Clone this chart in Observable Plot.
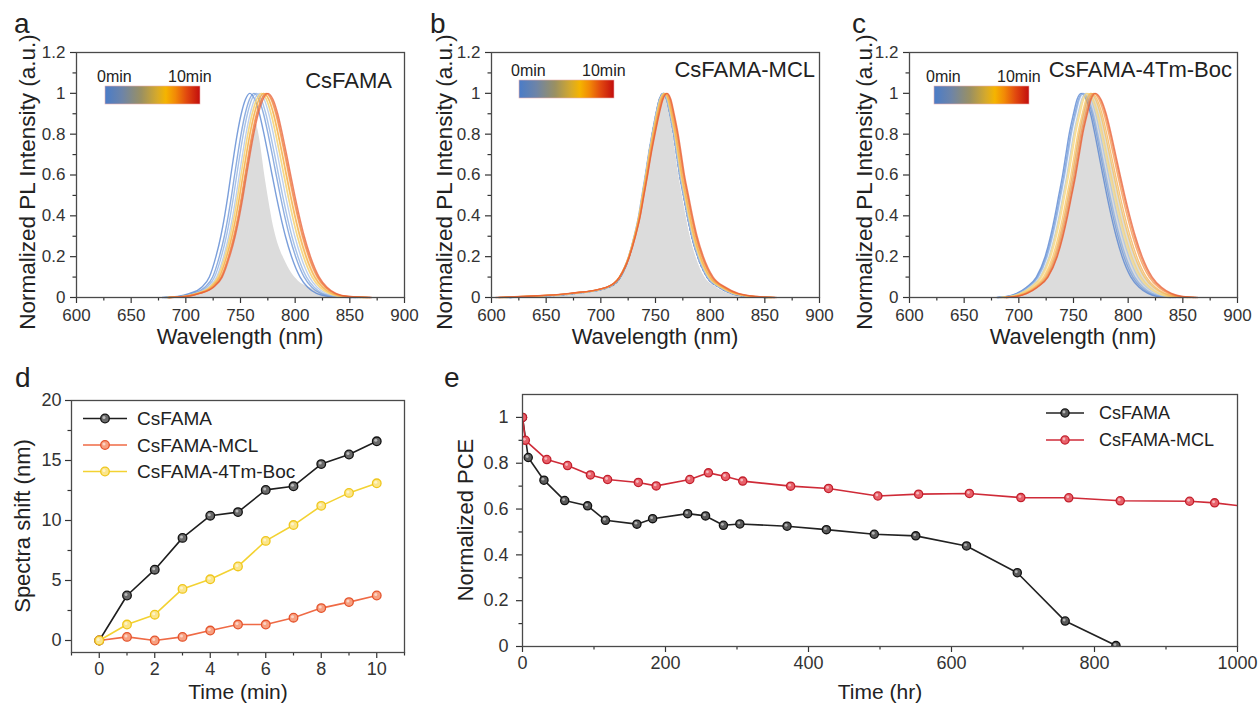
<!DOCTYPE html>
<html>
<head>
<meta charset="utf-8">
<script src="https://cdn.jsdelivr.net/npm/d3@7"></script>
<script src="https://cdn.jsdelivr.net/npm/@observablehq/plot@0.6"></script>
<style>
  html, body { margin: 0; padding: 0; background: #fff; }
  #fig { position: relative; width: 1260px; height: 704px; overflow: hidden; background: #fff; }
  #fig > svg { position: absolute; }
</style>
</head>
<body>
<div id="fig"></div>
<script>
// ---------------- DATA ----------------
// Panel d: spectra peak shift (nm) vs time (min)
const timeMin = [0, 1, 2, 3, 4, 5, 6, 7, 8, 9, 10];
const shiftCsFAMA = [0, 3.75, 5.9, 8.55, 10.4, 10.7, 12.55, 12.85, 14.7, 15.5, 16.6];
const shiftMCL    = [0, 0.3, 0.0, 0.3, 0.83, 1.33, 1.33, 1.9, 2.7, 3.2, 3.75];
const shiftBoc    = [0, 1.33, 2.15, 4.3, 5.1, 6.17, 8.3, 9.62, 11.22, 12.3, 13.1];

// Panel e: normalized PCE vs time (hr)
const timeHrCsFAMA = [0, 8, 30, 59, 91, 116, 160, 182, 231, 256, 281, 304, 370, 425, 492, 550, 621, 692, 759, 830];
const pceCsFAMA    = [1.0, 0.825, 0.726, 0.637, 0.614, 0.551, 0.534, 0.558, 0.580, 0.570, 0.529, 0.535, 0.525, 0.510, 0.490, 0.483, 0.439, 0.322, 0.111, 0.004];
const timeHrMCL = [0, 4, 34, 63, 95, 119, 162, 187, 234, 260, 284, 308, 375, 428, 497, 554, 625, 697, 764, 836, 933, 968, 1040];
const pceMCL    = [1.0, 0.90, 0.816, 0.790, 0.749, 0.729, 0.716, 0.701, 0.729, 0.758, 0.742, 0.722, 0.700, 0.690, 0.657, 0.665, 0.668, 0.650, 0.649, 0.636, 0.634, 0.627, 0.600];

// Panels a-c: PL spectra line shape
// intensity levels and the distance (nm) of each flank from the peak at that level
const levels    = [0, 0.005, 0.02, 0.05, 0.1, 0.2, 0.3, 0.4, 0.5, 0.6, 0.7, 0.8, 0.9, 0.97, 1];
const leftOffA  = [80, 66, 55, 44, 37, 31, 26.5, 23, 20, 17.3, 14.5, 11.5, 7.8, 4, 0];
const rightOffA = [93, 73, 61, 53, 46, 38.2, 32.6, 28.1, 24.1, 20.4, 16.8, 13, 8.8, 4.6, 0];
const leftOffB  = [140, 120, 80, 50, 39, 31, 26, 22, 19, 16, 13.2, 10, 6.5, 3.5, 0];
const rightOffB = [95, 78, 62, 51, 40, 31.5, 26, 22, 18.5, 15, 12.3, 9.5, 6, 3.2, 0];
const leftOffC  = [77, 68, 59, 50, 41, 33, 28, 24, 20.5, 17, 14, 11, 7, 3.8, 0];
const rightOffC = [82, 70, 61, 53, 45.5, 37.5, 32, 27.5, 23.5, 19.8, 16.2, 12.6, 8.6, 4.5, 0];
// 0-min peak wavelength per panel (each later curve is shifted by the panel-d shift)
const peak0A = 758.5, peak0B = 757, peak0C = 757;
// per-curve flank broadening (0 ... 10 min)
const leftScaleA  = [1.00, 1.02, 1.03, 1.05, 1.07, 1.08, 1.09, 1.10, 1.11, 1.12, 1.13];
const rightScaleA = [1.00, 1.00, 1.00, 1.00, 1.01, 1.01, 1.01, 1.02, 1.02, 1.02, 1.02];
const leftScaleB  = [1.00, 1.01, 1.02, 1.03, 1.04, 1.05, 1.06, 1.08, 1.09, 1.10, 1.12];
const rightScaleB = [1.00, 1.00, 1.01, 1.01, 1.02, 1.02, 1.03, 1.03, 1.04, 1.04, 1.05];
const leftScaleC  = [1.00, 1.01, 1.01, 1.02, 1.03, 1.03, 1.04, 1.04, 1.05, 1.05, 1.06];
const rightScaleC = [1.00, 1.01, 1.03, 1.05, 1.06, 1.07, 1.09, 1.10, 1.12, 1.13, 1.14];
// grey reference area
const grayAx = [688, 705, 715, 726, 733, 741, 748.5, 754.6, 762, 764.5, 766, 773, 781, 792, 803, 813, 825, 845];
const grayAy = [0, 0.01, 0.025, 0.05, 0.1, 0.2, 0.4, 0.6, 0.8, 0.85, 0.82, 0.57, 0.33, 0.165, 0.08, 0.05, 0.02, 0];
const grayPeakB = 757, grayLeftB = 1.0, grayRightB = 0.95;
const grayPeakC = 766, grayLeftC = 1.0, grayRightC = 1.1;

const curveColors = ["#4f7fcf", "#6a93d6", "#8aaee0", "#a9c0e4", "#f3dc8c", "#f6d277", "#f7c35c", "#f6ae4f", "#f39548", "#ee7a40", "#e85c33"];

// ticks
const specXTicks = [600, 650, 700, 750, 800, 850, 900];
const specXLabels = ["600", "650", "700", "750", "800", "850", "900"];
const specXMinor = [625, 675, 725, 775, 825, 875];
const specYTicks = [0, 0.2, 0.4, 0.6, 0.8, 1, 1.2];
const specYLabels = ["0", "0.2", "0.4", "0.6", "0.8", "1", "1.2"];
const specYMinor = [0.1, 0.3, 0.5, 0.7, 0.9, 1.1];
const dXTicks = [0, 2, 4, 6, 8, 10];
const dXLabels = ["0", "2", "4", "6", "8", "10"];
const dXMinor = [-1, 1, 3, 5, 7, 9, 11];
const dYTicks = [0, 5, 10, 15, 20];
const dYLabels = ["0", "5", "10", "15", "20"];
const dYMinor = [2.5, 7.5, 12.5, 17.5];
const eXTicks = [0, 200, 400, 600, 800, 1000];
const eXLabels = ["0", "200", "400", "600", "800", "1000"];
const eXMinor = [100, 300, 500, 700, 900];
const eYTicks = [0, 0.2, 0.4, 0.6, 0.8, 1];
const eYLabels = ["0", "0.2", "0.4", "0.6", "0.8", "1"];
const eYMinor = [0.1, 0.3, 0.5, 0.7, 0.9];

const samples = ["CsFAMA", "CsFAMA-MCL", "CsFAMA-4Tm-Boc"];

// ---------------- HELPERS ----------------
const FONT = "'Liberation Sans', Arial, Helvetica, sans-serif";
const fig = document.getElementById("fig");

function buildCurve(peak, lOff, rOff, ls, rs) {
  const pts = [];
  for (let i = 0; i < levels.length; i++) pts.push({x: peak - lOff[i] * ls, y: levels[i]});
  for (let i = levels.length - 2; i >= 0; i--) pts.push({x: peak + rOff[i] * rs, y: levels[i]});
  return pts;
}

function axisMarks(xT, xL, xMinor, yT, yL, yMinor, o) {
  return [
    Plot.axisX(xT, {tickSize: 6, tickPadding: o.xpad, strokeWidth: 1.2, label: null,
      tickFormat: d => xL[xT.indexOf(d)]}),
    Plot.axisX(xMinor, {tickSize: 3.5, strokeWidth: 1.2, label: null, tickFormat: () => ""}),
    Plot.axisY(yT, {tickSize: 6, tickPadding: o.ypad, strokeWidth: 1.2, label: null,
      tickFormat: d => yL[yT.indexOf(d)]}),
    Plot.axisY(yMinor, {tickSize: 3.5, strokeWidth: 1.2, label: null, tickFormat: () => ""}),
    Plot.frame({stroke: "#4a4a4a", strokeWidth: 1.3})
  ];
}

function place(svg, left, top) {
  svg.style.left = left + "px";
  svg.style.top = top + "px";
  fig.appendChild(svg);
}

function spectraPanel(cfg) {
  const curveMarks = cfg.shifts.map((s, k) =>
    Plot.line(buildCurve(cfg.peak0 + s, cfg.lOff, cfg.rOff, cfg.lScale[k], cfg.rScale[k]), {
      x: "x", y: "y", curve: "monotone-x",
      stroke: (cfg.dashFirst && k === 0) ? "#4b6aa6" : curveColors[k],
      strokeOpacity: (cfg.dashFirst && k === 0) ? 0.9 : 0.75,
      strokeWidth: 1.4,
      strokeDasharray: (cfg.dashFirst && k === 0) ? "2.5,1.8" : null
    }));
  const svg = Plot.plot({
    width: cfg.width, height: 360,
    marginLeft: cfg.mL, marginRight: cfg.mR, marginTop: 52, marginBottom: 63,
    x: {domain: [600, 900]},
    y: {domain: [0, 1.2]},
    style: {fontFamily: FONT, fontSize: "17px", color: "#333", background: "transparent", overflow: "visible"},
    marks: [
      Plot.areaY(cfg.gray, {x: "x", y: "y", fill: "#dcdcdc", curve: "monotone-x"}),
      ...curveMarks,
      ...axisMarks(specXTicks, specXLabels, specXMinor, specYTicks, specYLabels, specYMinor, {xpad: 5, ypad: 5})
    ]
  });
  place(svg, cfg.left, 0);
}

// ---------------- PANELS a-c ----------------
spectraPanel({
  left: 0, width: 420, mL: 76, mR: 16,
  shifts: shiftCsFAMA, peak0: peak0A, lOff: leftOffA, rOff: rightOffA,
  lScale: leftScaleA, rScale: rightScaleA,
  gray: grayAx.map((x, i) => ({x, y: grayAy[i]}))
});
spectraPanel({
  left: 420, width: 420, mL: 71, mR: 21,
  shifts: shiftMCL, peak0: peak0B, lOff: leftOffB, rOff: rightOffB,
  lScale: leftScaleB, rScale: rightScaleB, dashFirst: true,
  gray: buildCurve(grayPeakB, leftOffB, rightOffB, grayLeftB, grayRightB)
});
spectraPanel({
  left: 840, width: 420, mL: 69, mR: 23,
  shifts: shiftBoc, peak0: peak0C, lOff: leftOffC, rOff: rightOffC,
  lScale: leftScaleC, rScale: rightScaleC,
  gray: buildCurve(grayPeakC, leftOffC, rightOffC, grayLeftC, grayRightC)
});

// ---------------- PANEL d ----------------
const dSeries = [
  {name: samples[0], v: shiftCsFAMA, line: "#1e1e1e", fill: "#6a6a6a", stroke: "#111"},
  {name: samples[1], v: shiftMCL, line: "#ef6a45", fill: "#f7a080", stroke: "#e4532c"},
  {name: samples[2], v: shiftBoc, line: "#f3d232", fill: "#fbe58a", stroke: "#efc61c"}
];
function seriesMarks(data, s, r) {
  return [
    Plot.line(data, {x: "t", y: "v", stroke: s.line, strokeWidth: 1.6, clip: true}),
    Plot.dot(data, {x: "t", y: "v", r, fill: s.fill, stroke: s.stroke, strokeWidth: 1.3, clip: true}),
    Plot.dot(data, {x: "t", y: "v", r: r * 0.35, fill: "#fff", fillOpacity: 0.55, dx: -1, dy: -1, clip: true})
  ];
}
const dMarks = [];
dSeries.forEach(s => dMarks.push(...seriesMarks(timeMin.map((t, i) => ({t, v: s.v[i]})), s, 4.3)));
place(Plot.plot({
  width: 440, height: 344,
  marginLeft: 71, marginRight: 36, marginTop: 40, marginBottom: 52,
  x: {domain: [-1, 11]},
  y: {domain: [-1, 20]},
  style: {fontFamily: FONT, fontSize: "18px", color: "#333", background: "transparent", overflow: "visible"},
  marks: [
    ...dMarks,
    ...axisMarks(dXTicks, dXLabels, dXMinor, dYTicks, dYLabels, dYMinor, {xpad: 4, ypad: 4})
  ]
}), 0, 360);

// ---------------- PANEL e ----------------
const eSeries = [
  {name: samples[0], t: timeHrCsFAMA, v: pceCsFAMA, line: "#222", fill: "#5a5a5a", stroke: "#111"},
  {name: samples[1], t: timeHrMCL, v: pceMCL, line: "#cf2b38", fill: "#e8616a", stroke: "#c21f2c"}
];
const eMarks = [];
eSeries.forEach(s => eMarks.push(...seriesMarks(s.t.map((t, i) => ({t, v: s.v[i]})), s, 4.1)));
place(Plot.plot({
  width: 820, height: 344,
  marginLeft: 82, marginRight: 23, marginTop: 34, marginBottom: 58,
  x: {domain: [0, 1000]},
  y: {domain: [0, 1.1]},
  style: {fontFamily: FONT, fontSize: "18px", color: "#333", background: "transparent", overflow: "visible"},
  marks: [
    ...eMarks,
    ...axisMarks(eXTicks, eXLabels, eXMinor, eYTicks, eYLabels, eYMinor, {xpad: 4, ypad: 8})
  ]
}), 440, 360);

// ---------------- OVERLAY: titles, letters, colour bars, legends ----------------
const ov = d3.create("svg").attr("width", 1260).attr("height", 704)
  .style("left", "0px").style("top", "0px").style("pointer-events", "none")
  .style("font-family", FONT).style("fill", "#222");

const grad = ov.append("defs").append("linearGradient").attr("id", "cbar");
[[0, "#4a7cc8"], [0.18, "#6d84a8"], [0.38, "#9a9062"], [0.55, "#d7aa2a"], [0.64, "#f5b400"],
 [0.74, "#f28a06"], [0.86, "#e1480f"], [1, "#c20d0d"]].forEach(([o, c]) =>
  grad.append("stop").attr("offset", o).attr("stop-color", c));

function txt(x, y, s, size, anchor, rotate) {
  const t = ov.append("text").attr("x", x).attr("y", y).attr("font-size", size)
    .attr("text-anchor", anchor || "start").attr("fill", "#222").text(s);
  if (rotate) t.attr("transform", `rotate(-90 ${x} ${y})`);
  return t;
}

// panel letters
[["a", 14, 33], ["b", 430, 33], ["c", 852, 33], ["d", 15, 387], ["e", 444, 387]]
  .forEach(([s, x, y]) => txt(x, y, s, 28));

// spectra titles
txt(392, 88, samples[0], 22, "end");
txt(815, 77, samples[1], 22, "end");
txt(1232, 77, samples[2], 22, "end");

// colour bars
[[105, 86, 82], [519, 80, 76], [934, 86, 82]].forEach(([x, y, ly]) => {
  ov.append("rect").attr("x", x).attr("y", y).attr("width", 95).attr("height", 18)
    .attr("fill", "url(#cbar)").attr("stroke", "#e9b0b0").attr("stroke-width", 0.6);
  txt(x - 8, ly, "0min", 16);
  txt(x + 63, ly, "10min", 16);
});

// axis titles
txt(240, 344, "Wavelength (nm)", 22, "middle");
txt(655, 344, "Wavelength (nm)", 22, "middle");
txt(1073, 344, "Wavelength (nm)", 22, "middle");
txt(238, 699, "Time (min)", 21, "middle");
txt(880, 699, "Time (hr)", 21, "middle");
txt(35, 182, "Normalized PL Intensity (a.u.)", 22.5, "middle", true);
txt(452, 182, "Normalized PL Intensity (a.u.)", 22.5, "middle", true);
txt(872, 182, "Normalized PL Intensity (a.u.)", 22.5, "middle", true);
txt(30, 526, "Spectra shift (nm)", 22, "middle", true);
txt(473, 520, "Normalized PCE", 22, "middle", true);

// legends
function legendRow(s, x0, x1, y, tx, size, r) {
  ov.append("line").attr("x1", x0).attr("x2", x1).attr("y1", y).attr("y2", y)
    .attr("stroke", s.line).attr("stroke-width", 1.6);
  const cx = (x0 + x1) / 2;
  ov.append("circle").attr("cx", cx).attr("cy", y).attr("r", r)
    .attr("fill", s.fill).attr("stroke", s.stroke).attr("stroke-width", 1.3);
  ov.append("circle").attr("cx", cx - 1).attr("cy", y - 1).attr("r", r * 0.35)
    .attr("fill", "#fff").attr("fill-opacity", 0.55);
  txt(tx, y + size * 0.36, s.name, size);
}
dSeries.forEach((s, i) => legendRow(s, 83, 127, 418.5 + i * 26.5, 137, 19, 4.3));
eSeries.forEach((s, i) => legendRow(s, 1046, 1084, 413 + i * 27, 1099, 18, 4.1));

fig.appendChild(ov.node());
</script>
</body>
</html>
